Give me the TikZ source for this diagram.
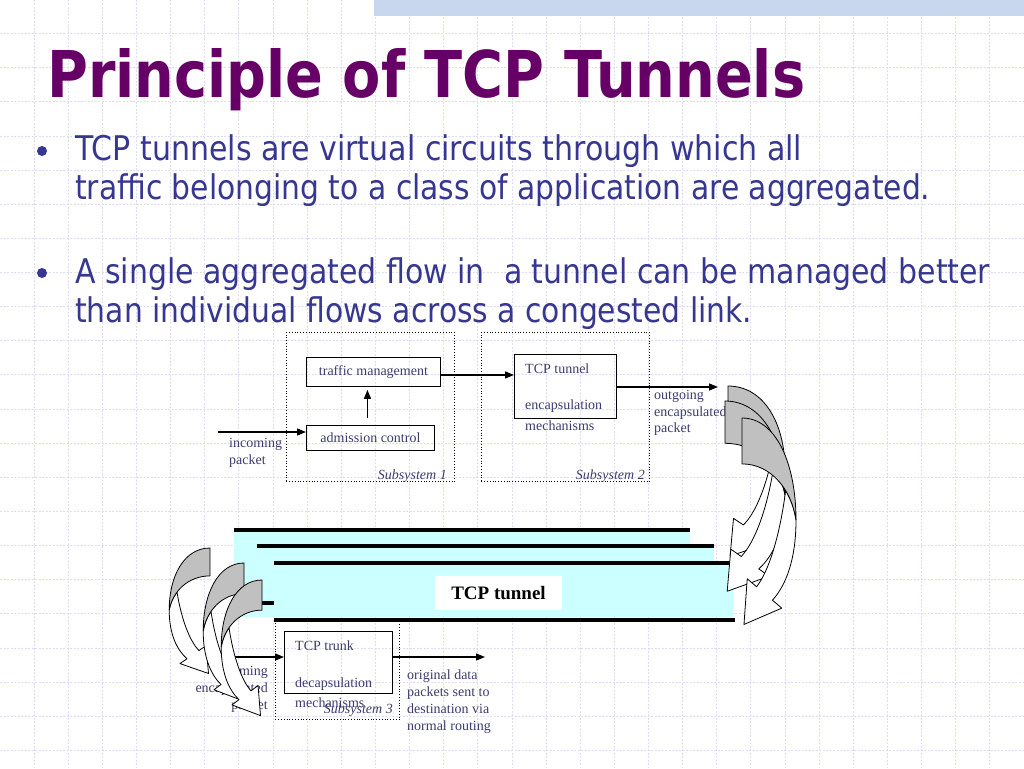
\documentclass[tikz,border=0pt]{standalone}
\usepackage{fontspec}
\setmainfont{Liberation Serif}
\newfontfamily\tah{DejaVu Sans}
\usepackage{graphicx}
\usetikzlibrary{arrows.meta,calc}
\definecolor{titlec}{RGB}{102,0,102}
\definecolor{bodyc}{RGB}{55,55,145}
\definecolor{labc}{RGB}{60,60,110}
\definecolor{gridc}{RGB}{220,220,242}
\definecolor{bandc}{RGB}{200,214,238}
\definecolor{tunc}{RGB}{204,255,255}
\definecolor{greyc}{RGB}{192,192,192}
\newsavebox\fitbox
\newlength\fitlen
\newcommand\fitw[2]{\sbox\fitbox{#2}\setlength\fitlen{\wd\fitbox}\pgfmathsetmacro\fitf{#1/\fitlen}\scalebox{\fitf}[1]{\usebox\fitbox}}
\newcommand\curvarr[4]{%
 \begin{scope}[shift={(#1,#2)},xscale=#3,yscale=#4]
  \draw[arrline,fill=white] (60,100) .. controls (60,140) and (48,165) .. (33.8,178.6) -- (44.2,186.4) -- (2.2,202.4) -- (5.8,157.6) -- (16.2,165.4) .. controls (30,150) and (42,115) .. (48.52,71.18) .. controls (54.3,79.61) and (58.25,89.5) .. (60,100) -- cycle;
  \draw[arrline,fill=greyc] (0,0) .. controls (38,0) and (60,45) .. (60,100) .. controls (55,70) and (32,45) .. (0,45) -- cycle;
 \end{scope}}
\tikzset{
 box/.style={draw=black, line width=0.9pt, inner sep=0pt, anchor=north west},
 dotbox/.style={draw=black, dotted, line width=0.8pt, anchor=north west, inner sep=0pt},
 lab/.style={font=\fontsize{14}{16.5}\selectfont, text=labc, inner sep=0pt},
 itlab/.style={lab, font=\itshape\fontsize{14}{16.5}\selectfont},
 conn/.style={line width=1.3pt, -{Triangle[length=9pt,width=7pt]}},
 tline/.style={line width=4pt},
 arrline/.style={draw=black, line width=0.8pt, line join=round},
 gridl/.style={draw=gridc, line width=1pt, dash pattern=on 2pt off 1.5pt},
 body/.style={font=\tah\fontsize{34}{40}\selectfont, text=bodyc, inner sep=0pt, anchor=base west},
}
\begin{document}
\begin{tikzpicture}[x=1pt,y=-1pt]
\useasboundingbox (0,0) rectangle (1024,768);
\fill[white] (0,0) rectangle (1024,768);
% background grid
\foreach \i in {1,...,29} \draw[gridl] ({\i*34.133},0) -- ({\i*34.133},768);
\foreach \j in {1,...,22} \draw[gridl] (0,{\j*34.133-0.5}) -- (1024,{\j*34.133-0.5});
\fill[bandc] (374,0) rectangle (1024,16);
% title and bullets
\node[font=\tah\bfseries\fontsize{64.5}{70}\selectfont, text=titlec, inner sep=0pt, anchor=base west] (title) at (47,97) {\fitw{758}{Principle of TCP Tunnels}};
\fill[bodyc] (42,151) circle[radius=5pt];
\fill[bodyc] (42,273) circle[radius=5pt];
\node[body] (b1) at (75,160) {\fitw{727}{TCP tunnels are virtual circuits through which all}};
\node[body] (b2) at (75,199) {\fitw{855}{traffic belonging to a class of application are aggregated.}};
\node[body] (b3) at (75,283) {\fitw{915}{A single aggregated flow in\ \ a tunnel can be managed better}};
\node[body] (b4) at (75,322) {\fitw{677}{than individual flows across a congested link.}};
% subsystem 1
\node[dotbox, minimum width=168pt, minimum height=149pt] (s1) at (286,332) {};
\node[box, lab, minimum width=134pt, minimum height=29pt] (tm) at (306,357) {traffic management};
\node[box, lab, minimum width=128pt, minimum height=25pt] (ac) at (306,425) {admission control};
\node[itlab, anchor=base east] (s1l) at (447,479) {Subsystem 1};
\node[lab, anchor=base west] (in1) at (229,447) {incoming};
\node[lab, anchor=base west] (in2) at (229,464) {packet};
% subsystem 2
\node[dotbox, minimum width=168pt, minimum height=149pt] (s2) at (481,332) {};
\node[box, minimum width=102pt, minimum height=64pt] (tt) at (514,354) {};
\node[lab, anchor=base west] (tt1) at (525,373) {TCP tunnel};
\node[lab, anchor=base west] (tt2) at (525,409) {encapsulation};
\node[lab, anchor=base west] (tt3) at (525,430) {mechanisms};
\node[itlab, anchor=base east] (s2l) at (645,479) {Subsystem 2};
\node[lab, anchor=base west] (og1) at (654,399) {outgoing};
\node[lab, anchor=base west] (og2) at (654,416) {encapsulated};
\node[lab, anchor=base west] (og3) at (654,432) {packet};
% tunnels
\fill[tunc] (234,530) rectangle (690,617);
\draw[tline] (234,530) -- (690,530);
\fill[tunc] (257,546) rectangle (714,617);
\draw[tline] (257,546) -- (714,546);
\draw[tline] (257,603) -- (714,603);
\fill[tunc] (274,563) rectangle (733,617);
\draw[tline] (274,563) -- (735,563);
\node[fill=white, minimum width=127pt, minimum height=34pt, inner sep=0pt, font=\bfseries\fontsize{19}{22}\selectfont] (tl) at (498.5,593) {TCP tunnel};
% subsystem 3
\node[dotbox, minimum width=124pt, minimum height=99pt] (s3) at (275,620) {};
\draw[tline] (274,620) -- (735,620);
\node[box, minimum width=108pt, minimum height=62pt] (tk) at (284,631) {};
\node[lab, anchor=base west] (tk1) at (295,650) {TCP trunk};
\node[lab, anchor=base west] (tk2) at (295,687) {decapsulation};
\node[lab, anchor=base west] (tk3) at (295,707) {mechanisms};
\node[itlab, anchor=base east] (s3l) at (393,713) {Subsystem 3};
\node[lab, anchor=base west] (or1) at (407,679) {original data};
\node[lab, anchor=base west] (or2) at (407,696) {packets sent to};
\node[lab, anchor=base west] (or3) at (407,713) {destination via};
\node[lab, anchor=base west] (or4) at (407,730) {normal routing};
\node[lab, anchor=base east] (ie1) at (268,675) {incoming};
\node[lab, anchor=base east] (ie2) at (268,692) {encapsulated};
\node[lab, anchor=base east] (ie3) at (268,709) {packet};
% connectors
\coordinate (inc) at (218,432);
\draw[conn] (inc) -- (inc -| ac.west);
\draw[conn] ($(ac.north)+(-3,-7)$) -- ($(tm.south)+(-6,3)$);
\coordinate (tmo) at ($(tm.east)+(0,3)$);
\draw[conn] (tmo) -- (tmo -| tt.west);
\coordinate (outend) at (718,387);
\draw[conn] (outend -| tt.east) -- (outend);
\coordinate (inc3) at (232,657);
\draw[conn] (inc3) -- (inc3 -| tk.west);
\coordinate (origend) at (485,657);
\draw[conn] (origend -| tk.east) -- (origend);
% curved arrows
\curvarr{728}{386}{0.95}{0.84}
\curvarr{725}{401}{1.0}{0.94}
\curvarr{742}{418}{0.9}{1.02}
\curvarr{210}{548}{-0.68}{0.62}
\curvarr{244}{563}{-0.68}{0.68}
\curvarr{262}{580}{-0.68}{0.67}
\end{tikzpicture}
\end{document}
